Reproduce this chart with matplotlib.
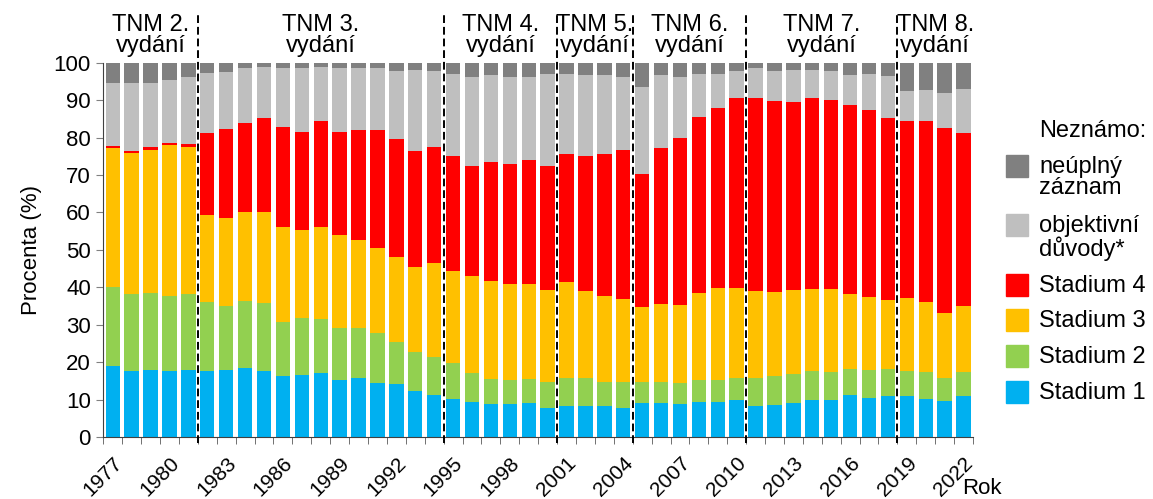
import numpy as np
import matplotlib
matplotlib.use("Agg")
import matplotlib.pyplot as plt
from matplotlib.transforms import blended_transform_factory
from matplotlib.patches import Rectangle

plt.rcParams['font.family'] = ['Liberation Sans', 'DejaVu Sans']

#Years and TNM editions
years = list(range(1977, 2023))
editions = ["TNM 2.", "TNM 3.", "TNM 4.", "TNM 5.", "TNM 6.", "TNM 7.", "TNM 8."]
edition_start = [1977, 1982, 1995, 2001, 2005, 2011, 2019]

#Shares (%)
stadium1 = [18.9, 17.6, 17.9, 17.6, 17.9, 17.6, 17.9, 18.5, 17.6, 16.2, 16.7, 17.1, 15.2, 15.8, 14.5, 14.1,
            12.2, 11.1, 10.2, 9.4, 8.9, 8.9, 9.2, 7.8, 8.3, 8.4, 8.3, 7.8, 9.1, 9.2, 8.9, 9.4, 9.4, 10.0,
            8.3, 8.6, 9.1, 10.0, 9.8, 11.1, 10.5, 11.0, 11.0, 10.1, 9.6, 11.0]
stadium2 = [21.2, 20.7, 20.5, 20.2, 20.4, 18.5, 17.0, 17.9, 18.1, 14.5, 15.2, 14.3, 14.0, 13.4, 13.3, 11.4,
            10.5, 10.4, 9.6, 7.8, 6.7, 6.3, 6.2, 6.8, 7.5, 7.4, 6.3, 6.8, 5.5, 5.6, 5.5, 5.9, 5.9, 5.8,
            7.6, 7.8, 7.7, 7.6, 7.5, 7.1, 7.5, 7.3, 6.7, 7.2, 6.1, 6.3]
stadium3 = [37.0, 37.6, 38.3, 40.1, 39.1, 23.3, 23.7, 23.8, 24.3, 25.4, 23.3, 24.7, 24.7, 23.5, 22.7, 22.5,
            22.8, 25.0, 24.6, 25.8, 26.1, 25.7, 25.4, 24.6, 25.7, 23.1, 23.2, 22.4, 20.1, 20.8, 21.0, 23.1, 24.5, 23.9,
            23.1, 22.4, 22.4, 21.9, 22.3, 19.9, 19.5, 18.3, 19.5, 18.9, 17.5, 17.7]
stadium4 = [0.6, 0.6, 0.7, 0.6, 0.9, 21.9, 23.8, 23.8, 25.2, 26.7, 26.4, 28.2, 27.5, 29.4, 31.4, 31.6,
            30.9, 31.0, 30.6, 29.4, 31.7, 32.1, 33.2, 33.3, 34.1, 36.1, 37.8, 39.6, 35.6, 41.7, 44.4, 47.2, 48.2, 50.9,
            51.6, 51.0, 50.4, 51.1, 50.5, 50.5, 49.8, 48.7, 47.2, 48.1, 49.4, 46.3]
objektivni = [16.8, 18.2, 17.3, 17.0, 17.8, 16.0, 15.2, 14.7, 13.7, 15.8, 17.1, 14.6, 17.3, 16.6, 16.8, 18.2,
              21.7, 20.4, 22.0, 23.9, 23.2, 23.3, 22.2, 24.5, 21.4, 21.7, 21.2, 19.6, 23.3, 19.3, 16.5, 11.5, 9.1, 7.2,
              8.1, 7.9, 8.5, 7.5, 7.7, 8.1, 9.8, 11.1, 7.9, 8.3, 9.4, 11.6]
neuplny = [5.5, 5.3, 5.3, 4.5, 3.9, 2.7, 2.4, 1.3, 1.1, 1.4, 1.3, 1.1, 1.3, 1.3, 1.3, 2.2,
           1.9, 2.1, 3.0, 3.7, 3.4, 3.7, 3.8, 3.0, 3.0, 3.3, 3.2, 3.8, 6.4, 3.4, 3.7, 2.9, 2.9, 2.2,
           1.3, 2.3, 1.9, 1.9, 2.2, 3.3, 2.9, 3.6, 7.7, 7.4, 8.0, 7.1]

series = [stadium1, stadium2, stadium3, stadium4, objektivni, neuplny]
labels = ["Stadium 1", "Stadium 2", "Stadium 3", "Stadium 4", "objektivní\ndůvody*", "neúplný\nzáznam"]
colors = ["#00B0F0", "#92D050", "#FFC000", "#FF0000", "#BFBFBF", "#808080"]

fig = plt.figure(figsize=(11.53, 4.99), dpi=100)
ax = fig.add_axes([0.0896, 0.1242, 0.7543, 0.7502])

#Stacked bars
bottom = np.zeros(len(years))
for vals, col in zip(series, colors):
    ax.bar(years, vals, width=0.76, bottom=bottom, color=col, linewidth=0)
    bottom += np.array(vals)

ax.set_xlim(years[0] - 0.5, years[-1] + 0.5)
ax.set_ylim(0, 100)
ax.set_yticks(range(0, 101, 10))
ax.set_xticks(years[::3])
ax.set_xticklabels([str(y) for y in years[::3]], rotation=45, ha="right", rotation_mode="anchor")
ax.set_xticks(np.arange(years[0] - 0.5, years[-1] + 1), minor=True)
ax.tick_params(axis="x", which="major", length=0, pad=12, labelsize=15)
ax.tick_params(axis="x", which="minor", length=5, color="#595959")
ax.tick_params(axis="y", length=5, color="#808080", labelsize=16, pad=4)
for s in ["top", "right"]:
    ax.spines[s].set_visible(False)
ax.spines["left"].set_color("#404040")
ax.spines["bottom"].set_color("#404040")
ax.set_ylabel("Procenta (%)", fontsize=16, labelpad=8)

#Edition separators and labels
trans = blended_transform_factory(ax.transData, ax.transAxes)
for y0 in edition_start[1:]:
    ax.plot([y0 - 0.5] * 2, [-0.015, 1.127], transform=trans, color="black",
            ls=(0, (4, 2)), lw=1.4, clip_on=False, zorder=5)
edition_end = edition_start[1:] + [years[-1] + 1]
for name, s, e in zip(editions, edition_start, edition_end):
    ax.text((s + e - 1) / 2, 1.015, name + "\nvydání", transform=trans, ha="center", va="bottom",
            fontsize=17, linespacing=0.95)

fig.text(962 / 1153, 1 - 489 / 499, "Rok", fontsize=16, ha="left", va="center")

#Legend
fig.text(1039 / 1153, 1 - 131 / 499, "Neznámo:", fontsize=17, ha="left", va="center")
leg_y = [392, 356, 320, 285, 225, 166]
for lab, col, yc in zip(labels, colors, leg_y):
    fig.add_artist(Rectangle((1006 / 1153, 1 - (yc + 11) / 499), 22 / 1153, 22 / 499,
                             transform=fig.transFigure, color=col))
    fig.text(1039 / 1153, 1 - (yc - 10) / 499, lab, fontsize=17, ha="left", va="top", linespacing=0.95)

fig.savefig("out.png")
